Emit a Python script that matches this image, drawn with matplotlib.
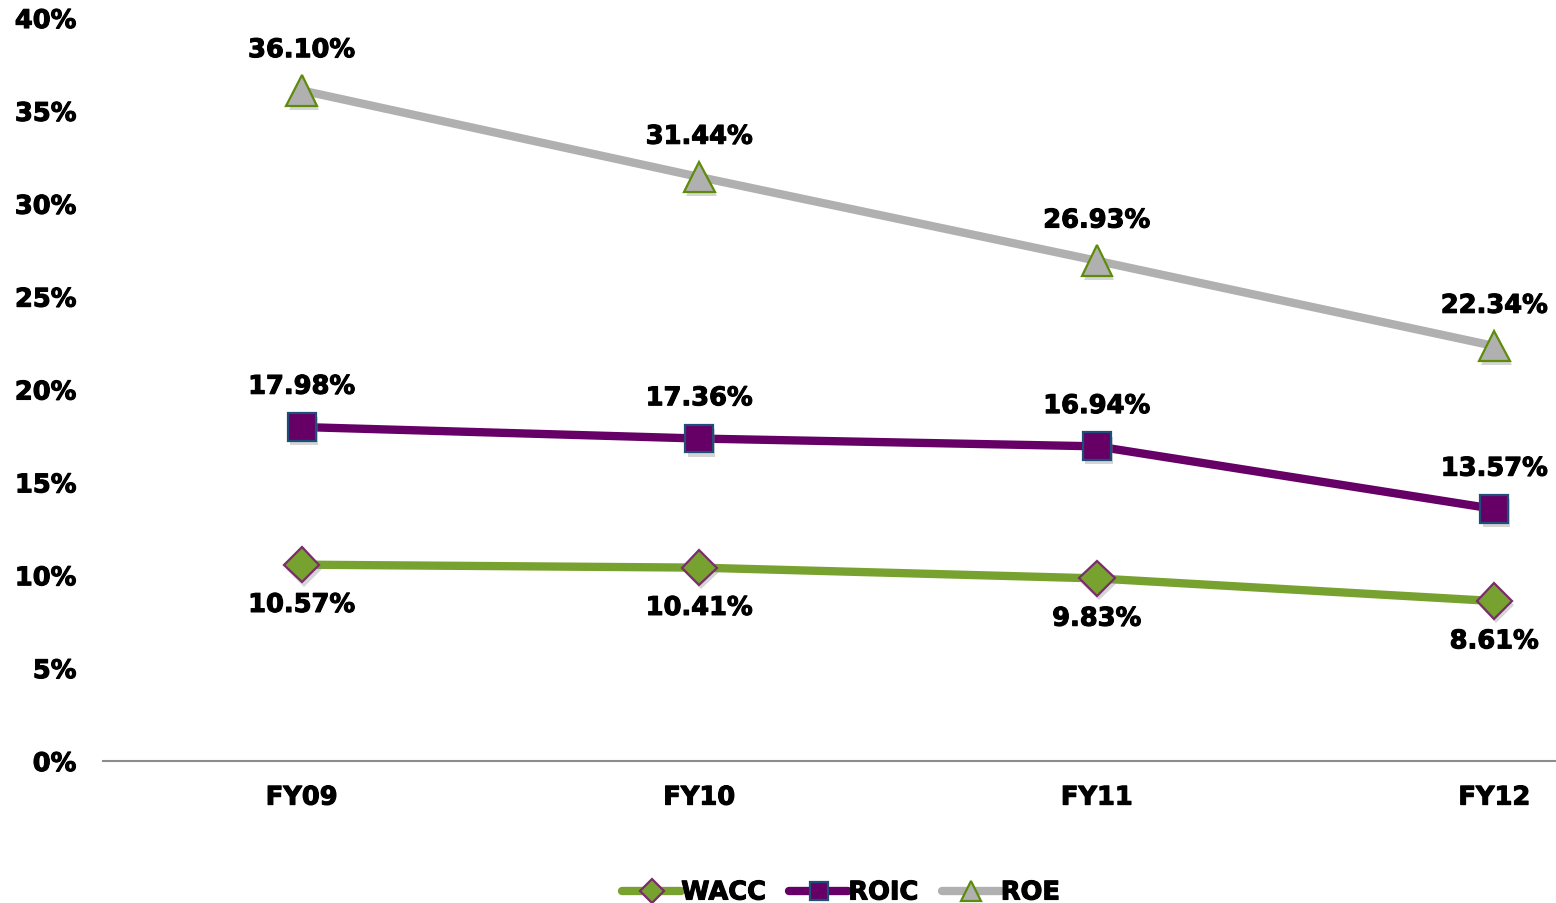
import matplotlib
matplotlib.use("Agg")
import matplotlib.pyplot as plt
import matplotlib.patheffects as pe
from matplotlib.ticker import FuncFormatter

plt.rcParams['font.family'] = ['DejaVu Sans']
plt.rcParams['font.weight'] = 'bold'

years = ["FY09", "FY10", "FY11", "FY12"]
wacc = [10.57, 10.41, 9.83, 8.61]
roic = [17.98, 17.36, 16.94, 13.57]
roe = [36.10, 31.44, 26.93, 22.34]

fig = plt.figure(figsize=(15.56, 9.04), dpi=100)
ax = fig.add_axes([103 / 1556, 142 / 904, 1 - 103 / 1556, 743 / 904])

x = list(range(len(years)))
shadow = [pe.SimplePatchShadow(offset=(1.5, -3), shadow_rgbFace="#888888", alpha=0.35), pe.Normal()]
heavy = [pe.withStroke(linewidth=0.8, foreground="black")]

series = [
    ("WACC", wacc, "#77A22F", "D", "#77A22F", "#7B2C6B", 18, -1),
    ("ROIC", roic, "#660066", "s", "#660066", "#1F4E79", 20, 1),
    ("ROE", roe, "#B0B0B0", "^", "#B0B0B0", "#5E8C0A", 22, 1),
]

for name, vals, lc, mk, mfc, mec, ms, side in series:
    ax.plot(x, vals, color=lc, lw=6, solid_capstyle="round", zorder=2)
    ax.plot(x, vals, ls="none", marker=mk, ms=ms, mfc=mfc, mec=mec, mew=1.6,
            path_effects=shadow, zorder=3)
    for xi, v in zip(x, vals):
        ax.annotate(f"{v:.2f}%", (xi, v), xytext=(0, 29 * side), textcoords="offset points",
                    ha="center", va="center", fontsize=18.5, fontweight="bold",
                    path_effects=heavy)
    # legend proxy
    ax.plot([], [], color=lc, lw=6, solid_capstyle="round", marker=mk, ms=ms * 0.68,
            mfc=mfc, mec=mec, mew=1.6, label=name)

ax.set_xlim(-0.5, 3.155)
ax.set_ylim(0, 40)
ax.set_yticks(range(0, 41, 5))
ax.yaxis.set_major_formatter(FuncFormatter(lambda v, p: f"{v:.0f}%"))
ax.set_xticks(x)
ax.set_xticklabels(years)
ax.tick_params(axis="both", length=0, labelsize=18.5)
ax.tick_params(axis="y", pad=19)
ax.tick_params(axis="x", pad=17)
for lbl in ax.get_xticklabels() + ax.get_yticklabels():
    lbl.set_path_effects(heavy)
for s in ["top", "right", "left"]:
    ax.spines[s].set_visible(False)
ax.spines["bottom"].set_color("#8C8C8C")
ax.spines["bottom"].set_linewidth(1.5)

leg = ax.legend(loc="center", bbox_to_anchor=(0.508, -0.177), ncol=3, frameon=False,
                handlelength=2.3, handletextpad=0.0, columnspacing=0.9,
                prop={"weight": "bold", "size": 18.5})
for t in leg.get_texts():
    t.set_path_effects(heavy)

fig.savefig("out.png", dpi=100)
